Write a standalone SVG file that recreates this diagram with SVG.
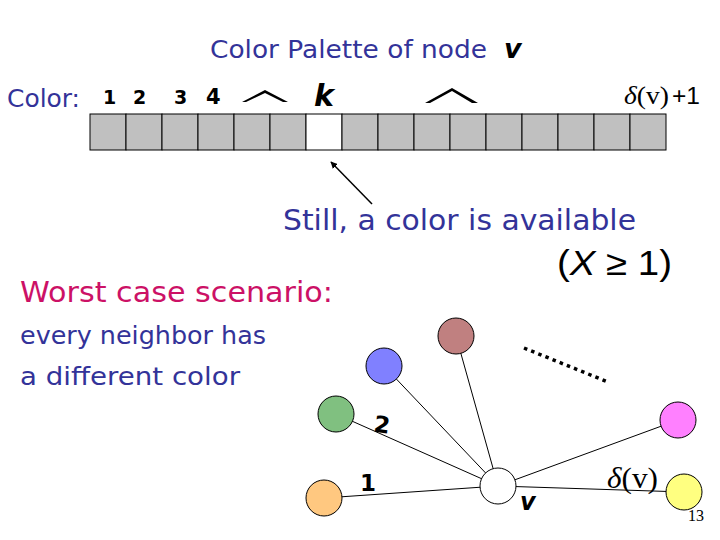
<svg xmlns="http://www.w3.org/2000/svg" width="720" height="540" viewBox="0 0 720 540">
<style>
.blue{font-family:"DejaVu Sans","Liberation Sans",sans-serif;fill:#333399}
.pink{font-family:"DejaVu Sans","Liberation Sans",sans-serif;fill:#CC1166}
.num{font-family:"DejaVu Sans","Liberation Sans",sans-serif;font-weight:bold;fill:#000}
.math{font-family:"Liberation Serif","DejaVu Serif",serif;fill:#000}
.cell{fill:#C0C0C0;stroke:#000;stroke-width:1}
.edge{stroke:#000;stroke-width:1;fill:none}
.node{stroke:#000;stroke-width:1}
</style>
<defs>
<marker id="ah" viewBox="0 0 10 10" refX="9" refY="5" markerWidth="7" markerHeight="7" orient="auto-start-reverse" markerUnits="userSpaceOnUse">
<path d="M0,0 L10,5 L0,10 z" fill="#000"/>
</marker>
</defs>
<rect width="720" height="540" fill="#fff"/>

<g id="title">
<text class="blue" x="210" y="58" font-size="24" textLength="277" lengthAdjust="spacingAndGlyphs">Color Palette of node</text>
<text class="num" x="504" y="58" font-size="27" font-style="italic">v</text>
</g>

<g id="palette-labels">
<text class="blue" x="7" y="107" font-size="24" textLength="73" lengthAdjust="spacingAndGlyphs">Color:</text>
<text class="num" x="103" y="104" font-size="19">1</text>
<text class="num" x="133" y="104" font-size="19">2</text>
<text class="num" x="174" y="104" font-size="19">3</text>
<text class="num" x="206" y="104" font-size="21">4</text>
<path d="M242,102 L265,90 L288,102 L283,102 L265,93 L246,102 Z" fill="#000"/>
<path d="M425,103 L452,88 L478,103 L472,103 L452,91 L430,103 Z" fill="#000"/>
<text class="num" x="314" y="106" font-size="30" font-style="italic">k</text>
<text class="math" x="624" y="104" font-size="26" textLength="45" lengthAdjust="spacingAndGlyphs"><tspan font-style="italic">δ</tspan>(v)</text>
<text x="672" y="104" font-size="24" font-family="Liberation Sans,sans-serif" fill="#000" textLength="28" lengthAdjust="spacingAndGlyphs">+1</text>
</g>

<g id="palette">
<rect class="cell" x="90" y="114" width="36" height="36"/>
<rect class="cell" x="126" y="114" width="36" height="36"/>
<rect class="cell" x="162" y="114" width="36" height="36"/>
<rect class="cell" x="198" y="114" width="36" height="36"/>
<rect class="cell" x="234" y="114" width="36" height="36"/>
<rect class="cell" x="270" y="114" width="36" height="36"/>
<rect class="cell" x="306" y="114" width="36" height="36" style="fill:#fff"/>
<rect class="cell" x="342" y="114" width="36" height="36"/>
<rect class="cell" x="378" y="114" width="36" height="36"/>
<rect class="cell" x="414" y="114" width="36" height="36"/>
<rect class="cell" x="450" y="114" width="36" height="36"/>
<rect class="cell" x="486" y="114" width="36" height="36"/>
<rect class="cell" x="522" y="114" width="36" height="36"/>
<rect class="cell" x="558" y="114" width="36" height="36"/>
<rect class="cell" x="594" y="114" width="36" height="36"/>
<rect class="cell" x="630" y="114" width="36" height="36"/>
</g>

<g id="arrow">
<line x1="372" y1="204" x2="331" y2="162" stroke="#000" stroke-width="1.5" marker-end="url(#ah)"/>
</g>

<g id="texts">
<text class="blue" x="283" y="230" font-size="29" textLength="353" lengthAdjust="spacingAndGlyphs">Still, a color is available</text>
<text x="557" y="275" font-size="35" font-family="Liberation Sans,sans-serif" fill="#000" textLength="115" lengthAdjust="spacingAndGlyphs">(<tspan font-style="italic">X</tspan>  ≥ 1)</text>
<text class="pink" x="20" y="302" font-size="29" textLength="313" lengthAdjust="spacingAndGlyphs">Worst case scenario:</text>
<text class="blue" x="20" y="344" font-size="25" textLength="246" lengthAdjust="spacingAndGlyphs">every neighbor has</text>
<text class="blue" x="20" y="385" font-size="25" textLength="220" lengthAdjust="spacingAndGlyphs">a different color</text>
</g>

<g id="connectors">
<line class="edge" x1="324" y1="498" x2="498" y2="486"/>
<line class="edge" x1="336" y1="414" x2="498" y2="486"/>
<line class="edge" x1="384" y1="366" x2="498" y2="486"/>
<line class="edge" x1="456" y1="336" x2="498" y2="486"/>
<line class="edge" x1="678" y1="420" x2="498" y2="486"/>
<line class="edge" x1="684" y1="492" x2="498" y2="486"/>
<line x1="524" y1="348" x2="608" y2="382" stroke="#000" stroke-width="3.5" stroke-dasharray="3.5,4.2"/>
</g>

<g id="node-orange"><circle class="node" cx="324" cy="498" r="18" fill="#FFC880"/></g>
<g id="node-green"><circle class="node" cx="336" cy="414" r="18" fill="#80C080"/></g>
<g id="node-blue"><circle class="node" cx="384" cy="366" r="18" fill="#8080FF"/></g>
<g id="node-brown"><circle class="node" cx="456" cy="336" r="18" fill="#C08080"/></g>
<g id="node-magenta"><circle class="node" cx="678" cy="420" r="18" fill="#FF80FF"/></g>
<g id="node-yellow"><circle class="node" cx="684" cy="492" r="18" fill="#FFFF80"/></g>
<g id="node-v"><circle class="node" cx="498" cy="486" r="18" fill="#fff"/></g>

<g id="edge-labels">
<text class="num" x="374" y="433" font-size="23" transform="rotate(8 384 425)">2</text>
<text class="num" x="360" y="491" font-size="23">1</text>
<text class="math" x="607" y="488" font-size="29" textLength="51" lengthAdjust="spacingAndGlyphs"><tspan font-style="italic">δ</tspan>(v)</text>
<text class="num" x="520" y="510" font-size="24" font-style="italic">v</text>
<text x="688" y="521" font-size="16" font-family="Liberation Serif,serif" fill="#000">13</text>
</g>
</svg>
